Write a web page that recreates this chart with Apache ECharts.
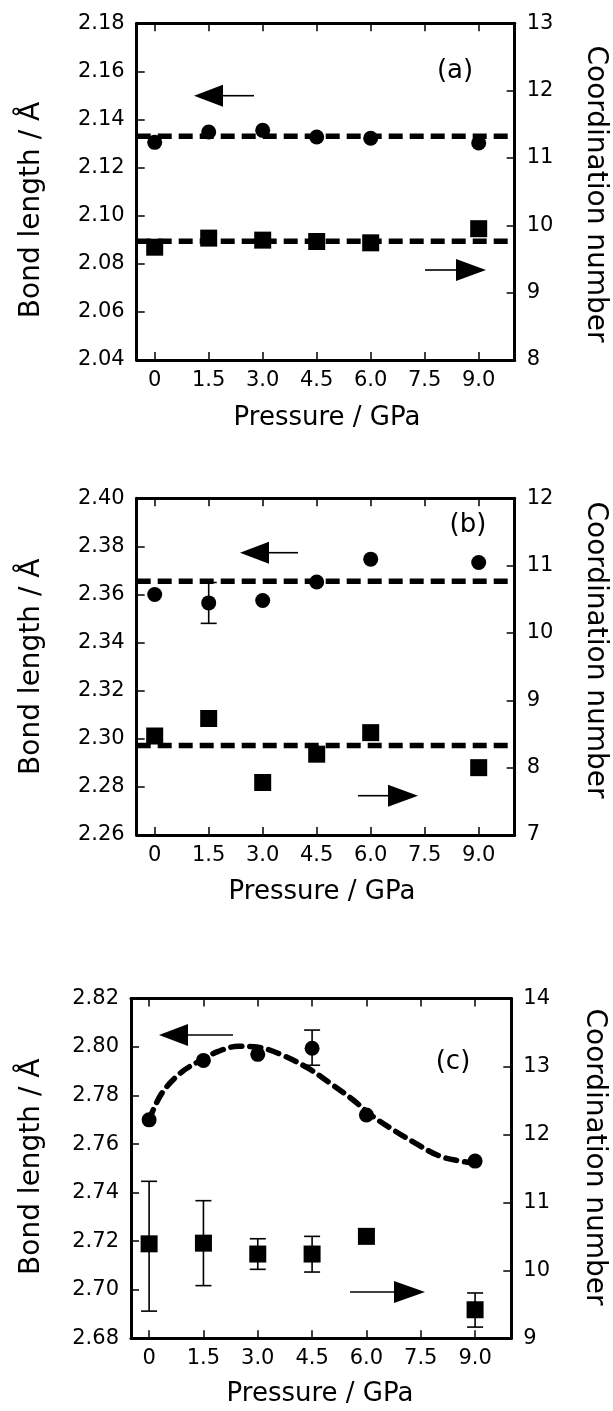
<!DOCTYPE html>
<html><head><meta charset="utf-8">
<script src="https://cdn.jsdelivr.net/npm/echarts@6/dist/echarts.min.js"></script>
<style>html,body{margin:0;padding:0;background:#fff}#c{width:613px;height:1411px}</style>
</head><body><div id="c"></div>
<script>
// ---------- data ----------
const pressures = [0, 1.5, 3.0, 4.5, 6.0, 9.0];
const xTickValues = [0, 1.5, 3, 4.5, 6, 7.5, 9];
const xTickLabels = ['0', '1.5', '3.0', '4.5', '6.0', '7.5', '9.0'];

// panel (a)
const bondA = [2.1305, 2.1348, 2.1355, 2.1327, 2.1322, 2.1302];
const cnA = [9.675, 9.81, 9.78, 9.76, 9.74, 9.95];
const bondFitA = 2.133;
const cnFitA = 9.765;

// panel (b)
const bondB = [2.360, 2.3565, 2.3575, 2.3652, 2.3747, 2.3733];
const bondErrB = [[1.5, 2.348, 2.365]];
const cnB = [8.47, 8.73, 7.78, 8.20, 8.52, 8.0];
const bondFitB = 2.3655;
const cnFitB = 8.33;

// panel (c)
const bondC = [2.770, 2.7945, 2.797, 2.7995, 2.772, 2.753];
const bondErrC = [[4.5, 2.7925, 2.807]];
const cnC = [10.39, 10.40, 10.24, 10.24, 10.50, 9.42];
const cnErrC = [[0, 9.40, 11.31], [1.5, 9.775, 11.025], [3.0, 10.015, 10.465], [4.5, 9.975, 10.50], [9.0, 9.165, 9.667]];
const fitPressC = [0.0, 0.34, 0.85, 1.36, 1.91, 2.46, 3.02, 3.66, 4.40, 4.95, 5.60, 6.16, 6.80, 7.35, 8.0, 8.6, 9.0];
const fitBondC = [2.7700, 2.7807, 2.7891, 2.7940, 2.7982, 2.8003, 2.7999, 2.7968, 2.7912, 2.7856, 2.7786, 2.7716, 2.7653, 2.7604, 2.7552, 2.7530, 2.7522];

// axis ranges
const xMin = -0.5, xMax = 10;
const leftRanges = [[2.04, 2.18], [2.26, 2.40], [2.68, 2.82]];
const rightRanges = [[8, 13], [7, 12], [9, 14]];
const bondTitle = 'Bond length / Å';
const cnTitle = 'Coordination number';
const pTitle = 'Pressure / GPa';
const panelLabels = ['(a)', '(b)', '(c)'];

// ---------- layout ----------
const FONT = '"DejaVu Sans", Arial, sans-serif';
const grids = [
  { left: 136.7, top: 23.3, width: 378, height: 336.7 },
  { left: 136.7, top: 498.3, width: 378, height: 336.7 },
  { left: 131, top: 998.5, width: 380.3, height: 339.8 }
];

const tickStyle = { inside: true, length: 8, lineStyle: { color: '#000', width: 1.5 } };
const lineStyleAx = { show: true, onZero: false, lineStyle: { color: '#000', width: 3 } };
const lblStyle = { color: '#000', fontFamily: FONT, fontSize: 21 };

const xAxis = [], yAxis = [], series = [];
grids.forEach((g, i) => {
  xAxis.push({
    type: 'value', gridIndex: i, position: 'bottom', min: xMin, max: xMax,
    axisLine: lineStyleAx, splitLine: { show: false },
    axisTick: Object.assign({ customValues: xTickValues }, tickStyle),
    axisLabel: Object.assign({ customValues: xTickValues, margin: 10,
      formatter: v => { const k = xTickValues.findIndex(t => Math.abs(t - v) < 1e-6); return k >= 0 ? xTickLabels[k] : ''; } }, lblStyle)
  });
  xAxis.push({
    type: 'value', gridIndex: i, position: 'top', min: xMin, max: xMax,
    axisLine: lineStyleAx, splitLine: { show: false },
    axisTick: Object.assign({ customValues: xTickValues }, tickStyle),
    axisLabel: { show: false }
  });
  yAxis.push({
    type: 'value', gridIndex: i, position: 'left', min: leftRanges[i][0], max: leftRanges[i][1], interval: 0.02,
    axisLine: lineStyleAx, splitLine: { show: false }, axisTick: tickStyle,
    axisLabel: Object.assign({ margin: 12, showMinLabel: true, showMaxLabel: true, formatter: v => v.toFixed(2) }, lblStyle)
  });
  yAxis.push({
    type: 'value', gridIndex: i, position: 'right', min: rightRanges[i][0], max: rightRanges[i][1], interval: 1,
    axisLine: lineStyleAx, splitLine: { show: false }, axisTick: tickStyle,
    axisLabel: Object.assign({ margin: 12, showMinLabel: true, showMaxLabel: true, formatter: v => String(Math.round(v)) }, lblStyle)
  });
});

const zip = (xs, ys) => xs.map((x, k) => [x, ys[k]]);
const black = '#000';

function scatter(i, right, vals, symbol, size) {
  return { type: 'scatter', xAxisIndex: 2 * i, yAxisIndex: 2 * i + (right ? 1 : 0),
    data: zip(pressures, vals), symbol: symbol, symbolSize: size,
    itemStyle: { color: black, opacity: 1 }, z: 5, silent: true };
}
function hline(i, right, v) {
  return { type: 'line', xAxisIndex: 2 * i, yAxisIndex: 2 * i + (right ? 1 : 0),
    data: [[xMin, v], [xMax, v]], symbol: 'none',
    lineStyle: { color: black, width: 5.5, type: [14, 7], cap: 'butt' }, z: 3, silent: true };
}
function errBars(i, right, data) {
  return { type: 'custom', xAxisIndex: 2 * i, yAxisIndex: 2 * i + (right ? 1 : 0),
    data: data, z: 4, silent: true,
    encode: { x: 0, y: [1, 2] },
    renderItem: (params, api) => {
      const x = api.value(0);
      const lo = api.coord([x, api.value(1)]);
      const hi = api.coord([x, api.value(2)]);
      const hw = 8;
      const st = { stroke: black, lineWidth: 1.6 };
      return { type: 'group', children: [
        { type: 'line', shape: { x1: lo[0], y1: lo[1], x2: hi[0], y2: hi[1] }, style: st },
        { type: 'line', shape: { x1: hi[0] - hw, y1: hi[1], x2: hi[0] + hw, y2: hi[1] }, style: st },
        { type: 'line', shape: { x1: lo[0] - hw, y1: lo[1], x2: lo[0] + hw, y2: lo[1] }, style: st }
      ] };
    } };
}

const CIRC = 15, SQ = 17;
// (a)
series.push(hline(0, false, bondFitA), hline(0, true, cnFitA));
series.push(scatter(0, false, bondA, 'circle', CIRC), scatter(0, true, cnA, 'rect', SQ));
// (b)
series.push(hline(1, false, bondFitB), hline(1, true, cnFitB));
series.push(errBars(1, false, bondErrB));
series.push(scatter(1, false, bondB, 'circle', CIRC), scatter(1, true, cnB, 'rect', SQ));
// (c)
series.push({ type: 'line', xAxisIndex: 4, yAxisIndex: 4, data: zip(fitPressC, fitBondC), symbol: 'none',
  smooth: 0.35, lineStyle: { color: black, width: 5.5, type: [11, 8], cap: 'round' }, z: 3, silent: true });
series.push(errBars(2, false, bondErrC), errBars(2, true, cnErrC));
series.push(scatter(2, false, bondC, 'circle', CIRC), scatter(2, true, cnC, 'rect', SQ));

// ---------- annotations (titles, panel labels, arrows) ----------
const graphic = [];
function txt(text, x, y, size, rot) {
  graphic.push({ type: 'text', x: x, y: y, rotation: rot || 0, silent: true,
    style: { text: text, fill: black, fontFamily: FONT, fontSize: size, align: 'center', verticalAlign: 'middle' } });
}
function arrow(tipX, y, baseX, endX, half) {
  graphic.push({ type: 'polygon', silent: true, shape: { points: [[tipX, y], [baseX, y - half], [baseX, y + half]] }, style: { fill: black } });
  graphic.push({ type: 'line', silent: true, shape: { x1: baseX, y1: y, x2: endX, y2: y }, style: { stroke: black, lineWidth: 1.6 } });
}
const leftTitlePos = [[32, 210], [32, 666.7], [32, 1166.7]];
const rightTitlePos = [[595, 194], [595, 650], [594, 1157]];
const pTitlePos = [[327, 418], [322, 892], [320, 1394]];
const panelLabelPos = [[455, 71], [468, 525], [453, 1062]];
for (let i = 0; i < 3; i++) {
  txt(bondTitle, leftTitlePos[i][0], leftTitlePos[i][1], 28, Math.PI / 2);
  txt(cnTitle, rightTitlePos[i][0], rightTitlePos[i][1], 28, -Math.PI / 2);
  txt(pTitle, pTitlePos[i][0], pTitlePos[i][1], 26, 0);
  txt(panelLabels[i], panelLabelPos[i][0], panelLabelPos[i][1], 26, 0);
}
// left-pointing arrows (to bond length axis), right-pointing arrows (to coordination axis)
arrow(194, 95.7, 223, 254, 11);
arrow(486, 270, 456, 425, 11);
arrow(240, 552.7, 269, 298, 11);
arrow(418, 795.7, 388, 358, 11);
arrow(159, 1035, 188, 233, 11);
arrow(425, 1292, 394, 350, 11);

const chart = echarts.init(document.getElementById('c'), null, { renderer: 'canvas' });
chart.setOption({
  animation: false,
  backgroundColor: '#fff',
  grid: grids,
  xAxis: xAxis,
  yAxis: yAxis,
  series: series,
  graphic: graphic
});
</script>
</body></html>
